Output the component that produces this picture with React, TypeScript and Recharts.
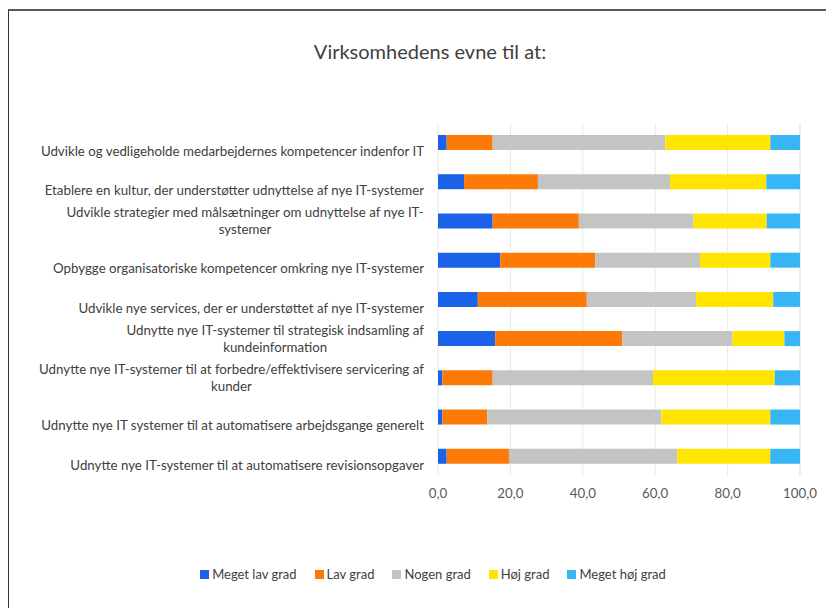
import React from "react";
import { BarChart, Bar, XAxis, YAxis, CartesianGrid } from "recharts";

const categories = [
  "Udvikle og vedligeholde medarbejdernes kompetencer indenfor IT",
  "Etablere en kultur, der understøtter udnyttelse af nye IT-systemer",
  "Udvikle strategier med målsætninger om udnyttelse af nye IT-\nsystemer",
  "Opbygge organisatoriske kompetencer omkring nye IT-systemer",
  "Udvikle nye services, der er understøttet af nye IT-systemer",
  "Udnytte nye IT-systemer til strategisk indsamling af\nkundeinformation",
  "Udnytte nye IT-systemer til at forbedre/effektivisere servicering af\nkunder",
  "Udnytte nye IT systemer til at automatisere arbejdsgange generelt",
  "Udnytte nye IT-systemer til at automatisere revisionsopgaver",
];

const megetLav = [2.4, 7.2, 15.1, 17.2, 11.0, 15.8, 1.2, 1.2, 2.4];
const lav = [12.7, 20.4, 23.8, 26.2, 30.1, 35.1, 13.9, 12.4, 17.2];
const nogen = [47.7, 36.5, 31.7, 29.0, 30.2, 30.4, 44.3, 48.1, 46.5];
const hoej = [29.0, 26.6, 20.2, 19.4, 21.3, 14.4, 33.6, 30.1, 25.7];
const megetHoej = [8.2, 9.3, 9.2, 8.2, 7.4, 4.3, 7.0, 8.2, 8.2];

const xTicks = [0, 20, 40, 60, 80, 100];

const seriesNames = ["Meget lav grad", "Lav grad", "Nogen grad", "Høj grad", "Meget høj grad"];
const seriesKeys = ["megetLav", "lav", "nogen", "hoej", "megetHoej"];
const seriesColors = ["#1b62e8", "#fc7a05", "#c4c4c4", "#ffe500", "#37b5f5"];

const data = categories.map((c, i) => ({
  name: c,
  megetLav: megetLav[i],
  lav: lav[i],
  nogen: nogen[i],
  hoej: hoej[i],
  megetHoej: megetHoej[i],
}));

const FONT = "Lato, 'Open Sans', sans-serif";
const LABEL_SIZE = 13.3;

let measureCtx: CanvasRenderingContext2D | null = null;
const measure = (s: string) => {
  if (typeof document === "undefined") return s.length * 6;
  if (!measureCtx) {
    const c = document.createElement("canvas");
    measureCtx = c.getContext("2d");
  }
  if (!measureCtx) return s.length * 6;
  measureCtx.font = `${LABEL_SIZE}px Lato`;
  return measureCtx.measureText(s).width;
};

const YTick = (props: any) => {
  const { x, y, payload } = props;
  const lines = String(payload.value).split("\n");
  const n = lines.length;
  if (n === 1) {
    return (
      <text x={x} y={y + 8.5} dy="0.355em" textAnchor="end" fill="#404040" fontSize={LABEL_SIZE} fontFamily={FONT}>
        {lines[0]}
      </text>
    );
  }
  const maxW = Math.max(...lines.map(measure));
  const cx = x - maxW / 2;
  return (
    <g>
      {lines.map((ln, i) => (
        <text
          key={i}
          x={cx}
          y={y + 8.5 - (n - 1 - i) * 17}
          dy="0.355em"
          textAnchor="middle"
          fill="#404040"
          fontSize={LABEL_SIZE}
          fontFamily={FONT}
        >
          {ln}
        </text>
      ))}
    </g>
  );
};

export default function App() {
  return (
    <div style={{ position: "relative", width: 826, height: 600 }}>
      <div
        style={{
          position: "absolute",
          left: -1,
          top: 1,
          width: 827,
          height: 599,
          borderTop: "2px solid #5a5a5a",
          borderLeft: "2px solid #333",
          boxSizing: "border-box",
        }}
      />
      <div
        style={{
          position: "absolute",
          left: 0,
          top: 31,
          width: 844,
          textAlign: "center",
          fontFamily: FONT,
          fontSize: 20,
          fontWeight: 400,
          color: "#404040",
        }}
      >
        Virksomhedens evne til at:
      </div>
      <BarChart
        width={826}
        height={600}
        data={data}
        layout="vertical"
        margin={{ top: 115, right: 34, bottom: 102, left: 0 }}
        style={{ position: "absolute", left: 0, top: 0 }}
      >
        <CartesianGrid horizontal={false} stroke="#e9e9e9" />
        <XAxis
          type="number"
          domain={[0, 100]}
          ticks={xTicks}
          tickFormatter={(v: number) => v.toFixed(1).replace(".", ",")}
          axisLine={false}
          tickLine={false}
          tickSize={0}
          tickMargin={13}
          height={30}
          tick={{ fill: "#595959", fontSize: 13.3, fontFamily: FONT }}
        />
        <YAxis
          type="category"
          dataKey="name"
          width={430}
          axisLine={false}
          tickLine={false}
          tickSize={0}
          tickMargin={14}
          interval={0}
          tick={<YTick />}
        />
        {seriesKeys.map((k, i) => (
          <Bar
            key={k}
            dataKey={k}
            name={seriesNames[i]}
            stackId="a"
            fill={seriesColors[i]}
            barSize={15}
            isAnimationActive={false}
          />
        ))}
      </BarChart>
      <div
        style={{
          position: "absolute",
          top: 558,
          left: 0,
          width: 826,
          display: "flex",
          justifyContent: "center",
          paddingLeft: 24,
          boxSizing: "border-box",
          fontFamily: FONT,
          fontSize: 13,
          color: "#404040",
        }}
      >
        {seriesNames.map((n, i) => (
          <div key={n} style={{ display: "flex", alignItems: "center", marginRight: i < 4 ? 18 : 0 }}>
            <span
              style={{
                display: "inline-block",
                width: 9,
                height: 9,
                background: seriesColors[i],
                marginRight: 3,
              }}
            />
            <span>{n}</span>
          </div>
        ))}
      </div>
    </div>
  );
}
